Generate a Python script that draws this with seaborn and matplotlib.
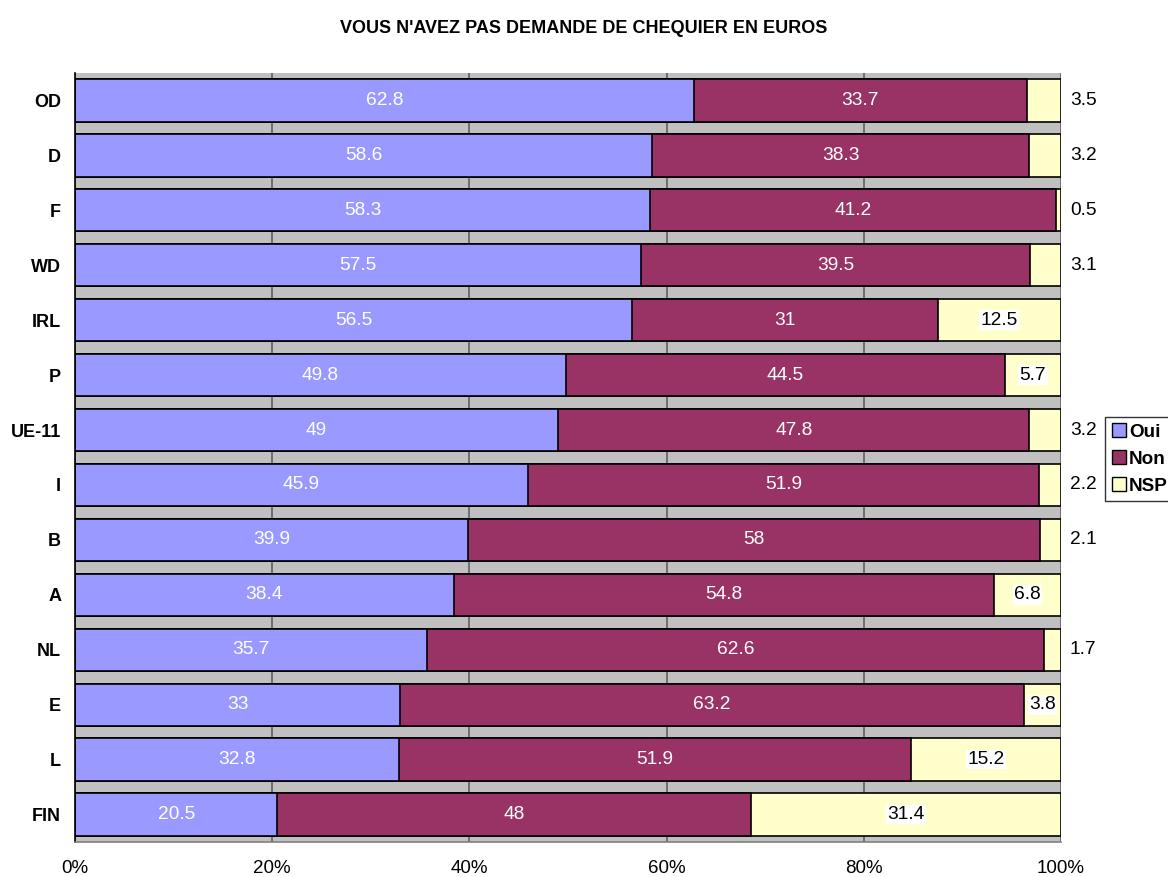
import numpy as np
import pandas as pd
import matplotlib
matplotlib.use("Agg")
import matplotlib.pyplot as plt
import seaborn as sns
from matplotlib.patches import Patch

categories = ["OD", "D", "F", "WD", "IRL", "P", "UE-11", "I", "B", "A", "NL", "E", "L", "FIN"]
oui = [62.8, 58.6, 58.3, 57.5, 56.5, 49.8, 49, 45.9, 39.9, 38.4, 35.7, 33, 32.8, 20.5]
non = [33.7, 38.3, 41.2, 39.5, 31, 44.5, 47.8, 51.9, 58, 54.8, 62.6, 63.2, 51.9, 48]
nsp = [3.5, 3.2, 0.5, 3.1, 12.5, 5.7, 3.2, 2.2, 2.1, 6.8, 1.7, 3.8, 15.2, 31.4]
nsp_outside = [True, True, True, True, False, False, True, True, True, False, True, False, False, False]
series_names = ["Oui", "Non", "NSP"]
colors = {"Oui": "#9999FF", "Non": "#993366", "NSP": "#FFFFCC"}
title = "VOUS N'AVEZ PAS DEMANDE DE CHEQUIER EN EUROS"

sns.set_style("white")
plt.rcParams["font.family"] = ["Liberation Sans", "DejaVu Sans"]
plt.rcParams["text.color"] = "black"
plt.rcParams["xtick.labelcolor"] = "black"
plt.rcParams["ytick.labelcolor"] = "black"

df = pd.DataFrame({"cat": categories, "Oui": oui, "Non": non, "NSP": nsp})
tot = df[["Oui", "Non", "NSP"]].sum(axis=1)
df["p_oui"] = df["Oui"] / tot * 100
df["p_non"] = df["Non"] / tot * 100
df["p_nsp"] = df["NSP"] / tot * 100
df["c1"] = df["p_oui"]
df["c2"] = df["p_oui"] + df["p_non"]
df["c3"] = df["c2"] + df["p_nsp"]

fig = plt.figure(figsize=(11.68, 8.77), dpi=100)
ax = fig.add_axes([0.0642, 0.0399, 0.8442, 0.8769])
ax.set_facecolor("#C0C0C0")

bw = 0.77
for col, name in [("c3", "NSP"), ("c2", "Non"), ("c1", "Oui")]:
    sns.barplot(data=df, x=col, y="cat", orient="h", color=colors[name],
                edgecolor="black", linewidth=1.2, width=bw, ax=ax,
                saturation=1, errorbar=None)

ax.set_xlim(0, 100)
ax.set_ylim(len(categories) - 0.5, -0.5)
ax.set_xticks([0, 20, 40, 60, 80, 100])
ax.set_xticklabels(["0%", "20%", "40%", "60%", "80%", "100%"], fontsize=13.5)
ax.xaxis.grid(True, color="#606060", linewidth=1.2)
ax.set_axisbelow(True)
ax.set_xlabel("")
ax.set_ylabel("")
ax.tick_params(axis="x", length=6, width=1, color="#808080", direction="inout", pad=10)
ax.set_yticks(range(len(categories)))
ax.set_yticklabels(categories, fontsize=13, fontweight="bold")
ax.tick_params(axis="y", which="major", length=0, pad=10)
ax.set_yticks(np.arange(-0.5, len(categories), 1), minor=True)
ax.tick_params(axis="y", which="minor", length=4.5, width=1, color="#808080", direction="out")
for s in ["top", "right"]:
    ax.spines[s].set_visible(False)
ax.spines["left"].set_color("black")
ax.spines["left"].set_linewidth(1.2)
ax.spines["bottom"].set_color("#808080")
ax.spines["bottom"].set_linewidth(1.2)

fs = 13.8
for i, r in df.iterrows():
    ax.text(r["c1"] / 2, i, f"{r['Oui']:g}", ha="center", va="center", color="white", fontsize=fs)
    ax.text((r["c1"] + r["c2"]) / 2, i, f"{r['Non']:g}", ha="center", va="center", color="white", fontsize=fs)
    if nsp_outside[i]:
        ax.text(100.9, i, f"{r['NSP']:g}", ha="left", va="center", color="black", fontsize=fs, clip_on=False)
    else:
        ax.text((r["c2"] + r["c3"]) / 2, i, f"{r['NSP']:g}", ha="center", va="center", color="black", fontsize=fs,
                bbox=dict(facecolor="white", edgecolor="none", pad=1))

fig.text(0.5, 0.968, title, ha="center", va="center", fontsize=13, fontweight="bold")

handles = [Patch(facecolor=colors[n], edgecolor="black", linewidth=1) for n in series_names]
leg = ax.legend(handles, series_names, loc="center left", bbox_to_anchor=(1.045, 0.498),
                frameon=True, fancybox=False, edgecolor="black", fontsize=13.6,
                handlelength=0.75, handleheight=0.75, handletextpad=0.15, borderpad=0.35,
                labelspacing=0.5, borderaxespad=0)
for t in leg.get_texts():
    t.set_fontweight("bold")
leg.get_frame().set_linewidth(1)

fig.savefig("out.png", dpi=100)
